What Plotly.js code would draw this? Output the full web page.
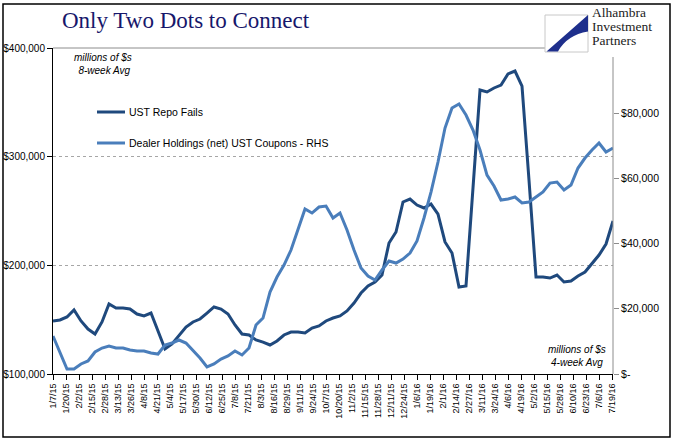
<!DOCTYPE html>
<html>
<head>
<meta charset="utf-8">
<script src="https://cdn.plot.ly/plotly-3.0.1.min.js"></script>
<style>html,body{margin:0;padding:0;background:#fff;}#chart{width:682px;height:441px;}</style>
</head>
<body>
<div id="chart"></div>
<script>
// ---- data (weekly) ----
const dates = [
"2015-01-07","2015-01-14","2015-01-21","2015-01-28","2015-02-04","2015-02-11","2015-02-18","2015-02-25",
"2015-03-04","2015-03-11","2015-03-18","2015-03-25","2015-04-01","2015-04-08","2015-04-15","2015-04-22","2015-04-29",
"2015-05-06","2015-05-13","2015-05-20","2015-05-27","2015-06-03","2015-06-10","2015-06-17","2015-06-24",
"2015-07-01","2015-07-08","2015-07-15","2015-07-22","2015-07-29","2015-08-05","2015-08-12","2015-08-19","2015-08-26",
"2015-09-02","2015-09-09","2015-09-16","2015-09-23","2015-09-30","2015-10-07","2015-10-14","2015-10-21","2015-10-28",
"2015-11-04","2015-11-11","2015-11-18","2015-11-25","2015-12-02","2015-12-09","2015-12-16","2015-12-23","2015-12-30",
"2016-01-06","2016-01-13","2016-01-20","2016-01-27","2016-02-03","2016-02-10","2016-02-17","2016-02-24",
"2016-03-02","2016-03-09","2016-03-16","2016-03-23","2016-03-30","2016-04-06","2016-04-13","2016-04-20","2016-04-27",
"2016-05-04","2016-05-11","2016-05-18","2016-05-25","2016-06-01","2016-06-08","2016-06-15","2016-06-22","2016-06-29",
"2016-07-06","2016-07-13","2016-07-20"];

const repoFails = [
148800,149700,152500,158900,148800,141400,136800,147900,164400,160700,
160700,159800,155200,153400,156100,139600,123000,127600,135000,143200,
147900,150600,156100,161700,159800,155200,145100,136800,135900,131300,
129400,126700,130400,135900,138600,138600,137700,142300,144200,148800,
151500,153400,158000,165300,174500,181000,184700,191100,220500,230700,
258300,261000,255500,252800,256400,247200,221500,211300,180100,181000,
271200,361300,359500,363200,365900,376100,378800,365000,278500,189300,
189300,188300,191100,184700,185600,190200,193900,201200,209500,219600,
240800];

const dealerHoldings = [
11650,6750,1530,1530,3070,3990,6750,7970,8590,7970,
7970,7360,7050,7050,6440,6130,8890,9510,10430,9510,
7360,4910,2150,3070,4600,5520,7050,5830,7970,15030,
17170,25150,29750,33430,38030,44160,50610,49380,51220,51530,
47850,49380,44160,38030,32510,30060,28830,31900,34660,34040,
35270,37110,40790,47850,55820,65020,75450,81580,82810,79440,
74830,68700,61030,57660,53370,53670,54290,52450,52750,54290,
55820,58580,58890,56430,57970,63180,66250,68700,70850,68090,
69310];

const xTickLabels = ["1/7/15","1/20/15","2/2/15","2/15/15","2/28/15","3/13/15","3/26/15","4/8/15","4/21/15",
"5/4/15","5/17/15","5/30/15","6/12/15","6/25/15","7/8/15","7/21/15","8/3/15","8/16/15","8/29/15",
"9/11/15","9/24/15","10/7/15","10/20/15","11/2/15","11/15/15","11/28/15","12/11/15","12/24/15",
"1/6/16","1/19/16","2/1/16","2/14/16","2/27/16","3/11/16","3/24/16","4/6/16","4/19/16","5/2/16",
"5/15/16","5/28/16","6/10/16","6/23/16","7/6/16","7/19/16"];

const leftTickVals = [100000,200000,300000,400000];
const leftTickText = ["$100,000","$200,000","$300,000","$400,000"];
const rightTickVals = [0,20000,40000,60000,80000];
const rightTickText = ["$-","$20,000","$40,000","$60,000","$80,000"];

const seriesNames = ["UST Repo Fails","Dealer Holdings (net) UST Coupons - RHS"];
const logoLines = ["Alhambra","Investment","Partners"];

// ---- helpers ----
function toISO(lbl){
  const p = lbl.split("/");
  const m = p[0].padStart(2,"0"), d = p[1].padStart(2,"0");
  return "20"+p[2]+"-"+m+"-"+d;
}
const xTickVals = xTickLabels.map(toISO);

const W = 682, H = 441;
const L = 53, R = 613, T = 48, B = 374;
function px(x){ return (x - L)/(R - L); }
function py(y){ return (B - y)/(B - T); }

const darkC = "#1f497d", lightC = "#4a7ebb";
const sans = "Liberation Sans, Arial, sans-serif";
const serif = "Liberation Serif, Times New Roman, serif";

const traces = [
  {x: dates, y: repoFails, name: seriesNames[0], type: "scatter", mode: "lines",
   line: {color: darkC, width: 3}, yaxis: "y"},
  {x: dates, y: dealerHoldings, name: seriesNames[1], type: "scatter", mode: "lines",
   line: {color: lightC, width: 3}, yaxis: "y2"}
];

const shapes = [
  {type:"line", xref:"paper", yref:"paper", x0:0, x1:px(545), y0:1, y1:1, line:{color:"#8c8c8c", width:1}},
  {type:"line", xref:"paper", yref:"paper", x0:1, x1:1, y0:0, y1:py(57), line:{color:"#8c8c8c", width:1}},
  {type:"rect", xref:"paper", yref:"paper", x0:px(3), x1:px(670), y0:py(437), y1:py(4), line:{color:"#000", width:1.5}},
  {type:"rect", xref:"paper", yref:"paper", layer:"above", x0:px(545), x1:px(588), y0:py(52), y1:py(15),
   fillcolor:"#fff", line:{color:"#c8c8c8", width:1}},
  {type:"path", xref:"paper", yref:"paper", layer:"above", fillcolor:"#1e2f8c", line:{width:0},
   path:"M "+px(588)+" "+py(15)+" L "+px(546.5)+" "+py(51.5)+" L "+px(558)+" "+py(51.5)+
        " Q "+px(567)+" "+py(35)+" "+px(588)+" "+py(31.5)+" Z"},
  {type:"line", xref:"paper", yref:"paper", x0:px(97), x1:px(125), y0:py(112), y1:py(112), line:{color:darkC, width:3}},
  {type:"line", xref:"paper", yref:"paper", x0:px(97), x1:px(125), y0:py(143), y1:py(143), line:{color:lightC, width:3}}
];

const annotations = [
  {xref:"paper", yref:"paper", x:px(127), y:py(112), xanchor:"left", yanchor:"middle", showarrow:false,
   text:seriesNames[0], font:{family:sans, size:10.5, color:"#000"}},
  {xref:"paper", yref:"paper", x:px(127), y:py(143), xanchor:"left", yanchor:"middle", showarrow:false,
   text:seriesNames[1], font:{family:sans, size:10.5, color:"#000"}},
  {xref:"paper", yref:"paper", x:px(103), y:py(64), xanchor:"center", yanchor:"middle", showarrow:false,
   text:"<i>millions of $s</i><br><i> 8-week Avg</i>", font:{family:sans, size:10, color:"#000"}},
  {xref:"paper", yref:"paper", x:px(577), y:py(356), xanchor:"center", yanchor:"middle", showarrow:false,
   text:"<i>millions of $s</i><br><i>4-week Avg</i>", font:{family:sans, size:10, color:"#000"}}
];
[13, 27, 41].forEach(function(yy, i){
  annotations.push({xref:"paper", yref:"paper", x:px(591), y:py(yy), xanchor:"left", yanchor:"middle",
    showarrow:false, borderpad:0, text:logoLines[i], font:{family:serif, size:13.5, color:"#222"}});
});

const layout = {
  width: W, height: H,
  margin: {l: L, r: W - R, t: T, b: H - B, pad: 0},
  paper_bgcolor: "#fff", plot_bgcolor: "#fff",
  showlegend: false,
  title: {text: "Only Two Dots to Connect", x: 62/W, xanchor: "left", xref: "container",
          y: 1 - 20/H, yanchor: "middle", yref: "container",
          font: {family: serif, size: 23, color: "#17176b"}},
  xaxis: {type: "date", range: [dates[0], dates[dates.length-1]],
          tickmode: "array", tickvals: xTickVals, ticktext: xTickLabels, tickangle: -90,
          ticks: "outside", ticklen: 5, tickcolor: "#000", showline: true, linecolor: "#000", linewidth: 1,
          showgrid: false, zeroline: false, tickfont: {family: sans, size: 9, color: "#000"}},
  yaxis: {range: [100000, 400000], tickmode: "array", tickvals: leftTickVals, ticktext: leftTickText,
          ticks: "outside", ticklen: 5, tickcolor: "#000", showline: true, linecolor: "#000", linewidth: 1,
          showgrid: true, gridcolor: "#a6a6a6", griddash: "dot", gridwidth: 1, zeroline: false,
          tickfont: {family: sans, size: 10, color: "#000"}},
  yaxis2: {overlaying: "y", side: "right", range: [0, 100000], tickmode: "array",
           tickvals: rightTickVals, ticktext: rightTickText, ticks: "outside", ticklen: 5, tickcolor: "#8c8c8c",
           showline: false, showgrid: false, zeroline: false,
           tickfont: {family: sans, size: 10.5, color: "#000"}},
  shapes: shapes,
  annotations: annotations
};

Plotly.newPlot("chart", traces, layout, {displayModeBar: false, staticPlot: true});
</script>
</body>
</html>
